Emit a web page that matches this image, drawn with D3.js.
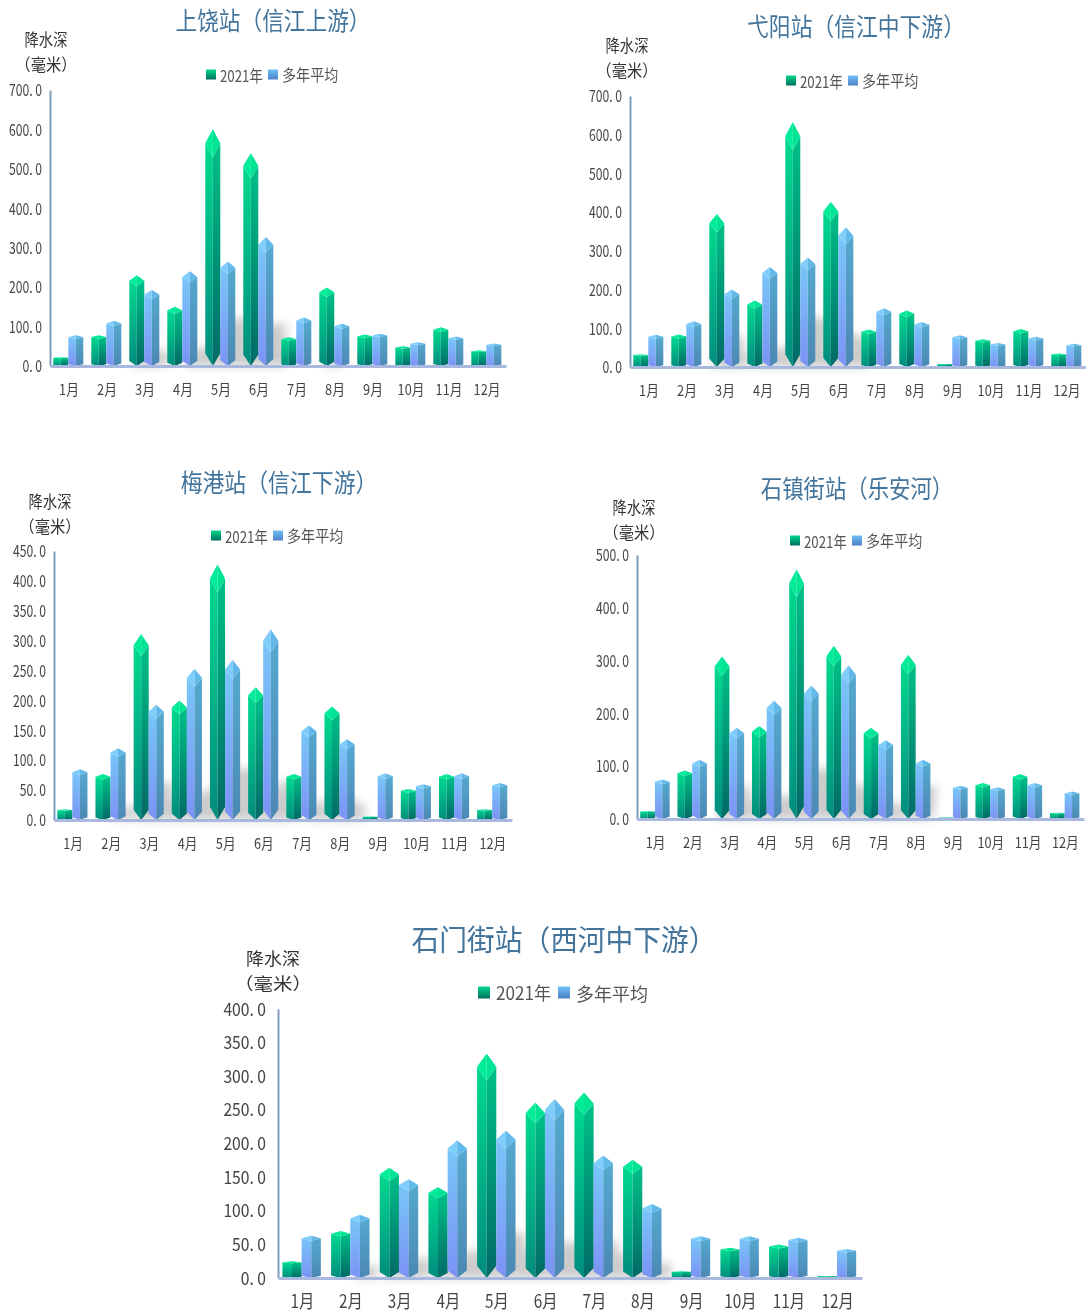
<!DOCTYPE html>
<html><head><meta charset="utf-8">
<script src="https://cdn.jsdelivr.net/npm/d3@7/dist/d3.min.js"></script>
<style>html,body{margin:0;padding:0;background:#fff}svg{display:block;filter:blur(0.45px)}
text{font-family:"Noto Sans CJK SC","Noto Sans",sans-serif}</style></head><body>
<script>
const months=["1月","2月","3月","4月","5月","6月","7月","8月","9月","10月","11月","12月"];
const seriesNames=["2021年","多年平均"];
const titles=["上饶站（信江上游）","弋阳站（信江中下游）","梅港站（信江下游）","石镇街站（乐安河）","石门街站（西河中下游）"];
const yMaxes=[700,700,450,500,400];
const yTickSteps=[100,100,50,100,50];
const shangrao2021=[22,78,230,150,601,540,73,199,80,50,98,40];
const shangraoAvg=[78,115,193,240,265,327,123,107,82,60,75,57];
const yiyang2021=[33,84,395,172,633,427,97,146,8,72,98,35];
const yiyangAvg=[83,118,200,258,283,361,152,116,82,62,78,60];
const meigang2021=[18,77,311,200,428,222,77,190,6,52,77,18];
const meigangAvg=[85,120,193,253,268,319,158,135,78,60,78,62];
const shizhen2021=[15,92,308,176,473,328,173,311,3,68,85,12];
const shizhenAvg=[75,112,173,224,253,291,149,112,63,60,68,52];
const shimen2021=[25,70,164,135,334,261,276,176,10,45,50,3];
const shimenAvg=[63,94,147,205,219,266,182,110,62,62,60,43];

const a=[shangrao2021,yiyang2021,meigang2021,shizhen2021,shimen2021];
const b=[shangraoAvg,yiyangAvg,meigangAvg,shizhenAvg,shimenAvg];
const layouts=[
 {x0:50,x1:506,yT:90,yB:366,tx:273,ty:19.5,lx:206,ly:74.5,ax:46,ay:39,f:1,tc:.867},
 {x0:630,x1:1086,yT:96,yB:367,tx:856,ty:25.5,lx:786,ly:80.5,ax:627,ay:45,f:1,tc:.872},
 {x0:54,x1:512,yT:551,yB:820,tx:279,ty:481.5,lx:211,ly:535.5,ax:50,ay:501,f:1,tc:.875},
 {x0:637,x1:1084,yT:555,yB:819,tx:857,ty:487.5,lx:790,ly:540.5,ax:634,ay:507,f:1,tc:.856},
 {x0:278,x1:862,yT:1009,yB:1278,tx:564,ty:938,lx:478,ly:992.5,ax:273,ay:958,f:1.2,tc:.956}
];
const W=1086,H=1315;
const svg=d3.select("body").append("svg").attr("width",W).attr("height",H);
const defs=svg.append("defs");
function grad(id,c1,c2){const g=defs.append("linearGradient").attr("id",id).attr("x1",0).attr("y1",0).attr("x2",0).attr("y2",1);
 g.append("stop").attr("offset",0).attr("stop-color",c1);g.append("stop").attr("offset",1).attr("stop-color",c2);}
grad("gL","#00d98f","#008c7e");grad("gR","#00c088","#006a66");
grad("bL","#78c6f8","#7c92f6");grad("bR","#55a8cf","#4c88b4");
grad("lg","#00d68e","#00705f");grad("lb","#6fc0f4","#4d80c8");
defs.append("filter").attr("id","sh").attr("x","-30%").attr("y","-30%").attr("width","160%").attr("height","160%")
 .append("feGaussianBlur").attr("stdDeviation",5);

function label(g,x,y,str,size,sx,color,anchor){
 return g.append("text").attr("transform",`translate(${x},${y}) scale(${sx},1)`)
  .attr("text-anchor",anchor||"middle").attr("dominant-baseline","central")
  .attr("font-size",size).attr("fill",color).text(str);
}
const pt=p=>p.map(d=>d.join(",")).join(" ");

layouts.forEach((L,i)=>{
 const g=svg.append("g");
 const f=L.f;
 const x=d3.scaleBand().domain(months).range([L.x0,L.x1]).paddingInner(.21).paddingOuter(.105);
 const sub=d3.scaleBand().domain(seriesNames).range([0,x.bandwidth()]);
 const y=d3.scaleLinear().domain([0,yMaxes[i]]).range([L.yB,L.yT]);
 const nudge=-0.7;

 // soft floor shadows
 const shadow=g.append("g").attr("filter","url(#sh)").attr("fill","#9a9a9a").attr("opacity",.5);
 [a[i],b[i]].forEach((vals,s)=>months.forEach((m,j)=>{
  const h=L.yB-y(vals[j]); if(h<60) return;
  const x0=x(m)+sub(seriesNames[s]),w=sub.bandwidth();
  shadow.append("polygon").attr("points",pt([[x0,L.yB],[x0+w,L.yB-h*.2],[x0+w+h*.13,L.yB-h*.2],[x0+w+h*.1,L.yB]]));
 }));

 // bars
 [a[i],b[i]].forEach((vals,s)=>{
  const isG=s===0;
  const bars=g.append("g").attr("transform",`translate(${nudge},0)`).selectAll("g").data(months.map((m,j)=>({m,v:vals[j]}))).join("g");
  bars.each(function(d){
   const sel=d3.select(this);
   const xL=x(d.m)+sub(seriesNames[s]),w=sub.bandwidth(),xM=xL+w/2,xR=xL+w;
   const top=y(d.v),base=y(0),h=base-top,c=Math.min(.06*h,w*.95);
   sel.append("polygon").attr("points",pt([[xL,top+c],[xM,top+2*c],[xM,base],[xL,base-c*.9]])).attr("fill",`url(#${isG?"gL":"bL"})`);
   sel.append("polygon").attr("points",pt([[xM,top+2*c],[xR,top+c],[xR,base-c*.9],[xM,base]])).attr("fill",`url(#${isG?"gR":"bR"})`);
   sel.append("polygon").attr("points",pt([[xM,top],[xL,top+c],[xM,top+2*c]])).attr("fill",isG?"#00ec98":"#7fcdfb");
   sel.append("polygon").attr("points",pt([[xM,top],[xR,top+c],[xM,top+2*c]])).attr("fill",isG?"#00e494":"#62b8e8");
  });
 });

 // y axis
 const ya=d3.axisLeft(y).tickValues(d3.range(0,yMaxes[i]+1,yTickSteps[i])).tickSize(0).tickPadding(0)
   .tickFormat(v=>d3.format(".1f")(v).replace(".",". "));
 const yg=g.append("g").attr("transform",`translate(${L.x0},0)`).call(ya);
 yg.select(".domain").attr("stroke","#7f9cbc").attr("stroke-width",2);
 yg.selectAll("text").attr("font-size",f>1?18:16).attr("fill","#444").attr("font-family",'"Noto Sans CJK SC"')
   .attr("dy",null).attr("dominant-baseline","central")
   .attr("text-anchor","end").attr("x",0)
   .attr("transform",`translate(${f>1?-12:-8},${f>1?-2:-1}) scale(${f>1?.87:.76},1)`);

 // x axis
 const xa=d3.axisBottom(x).tickSize(0).tickPadding(0);
 const xg=g.append("g").attr("transform",`translate(0,${L.yB})`).call(xa);
 xg.select(".domain").attr("stroke","#a8b8de").attr("stroke-width",3);
 xg.selectAll("text").attr("font-size",15*f).attr("fill","#444")
   .attr("dy",null).attr("dominant-baseline","central").attr("y",0)
   .attr("transform",`translate(0,${f>1?22.5:23}) scale(.85,1)`);

 // title
 label(g,L.tx,L.ty,titles[i],f>1?29:25,L.tc,"#43749c");
 // y title
 label(g,L.ax,L.ay,"降水深",f>1?17:16.5,f>1?1.06:.87,"#333");
 label(g,L.ax,L.ay+25,"（毫米）",f>1?17:16.5,f>1?1.147:.93,"#333");
 // legend
 const sq=f>1?12:10;
 g.append("rect").attr("x",L.lx).attr("y",L.ly-sq/2).attr("width",sq).attr("height",sq).attr("fill","url(#lg)");
 label(g,L.lx+(f>1?18:14),L.ly,seriesNames[0],f>1?18:16,f>1?.95:.83,"#555","start");
 const off=f>1?80:62;
 g.append("rect").attr("x",L.lx+off).attr("y",L.ly-sq/2).attr("width",sq).attr("height",sq).attr("fill","url(#lb)");
 label(g,L.lx+off+(f>1?18:14),L.ly,seriesNames[1],f>1?18:16,f>1?1:.88,"#555","start");
});
</script></body></html>
